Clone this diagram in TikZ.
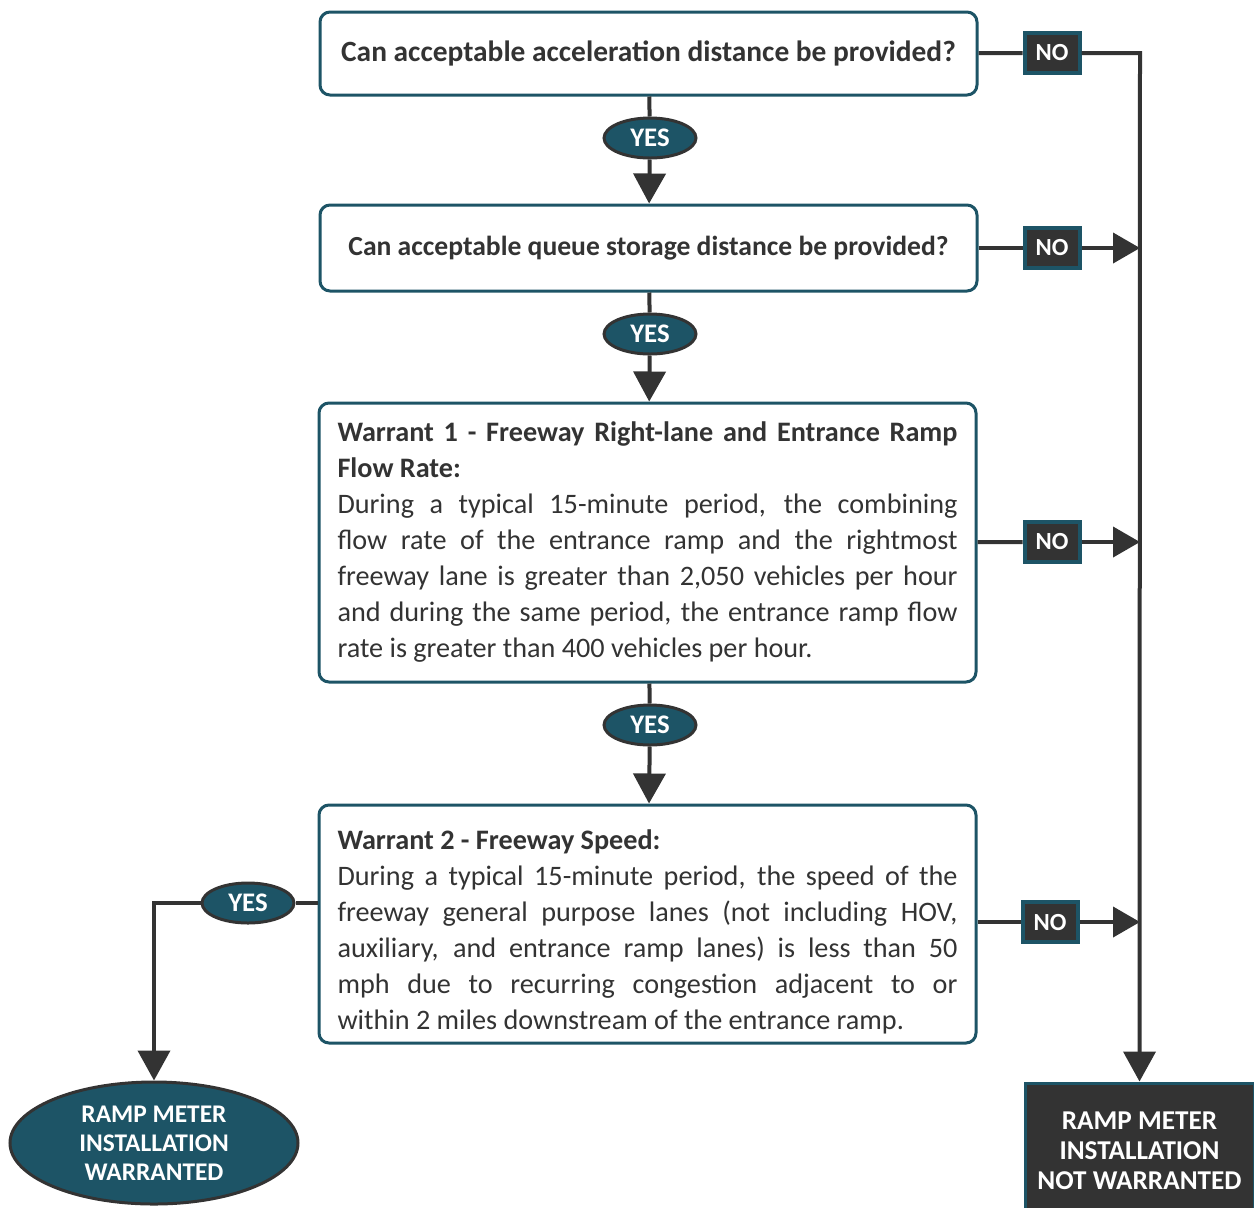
\documentclass[tikz,border=0pt]{standalone}
\usepackage{fontspec}
\setmainfont{Carlito}
\usetikzlibrary{arrows.meta,shapes.geometric}

\definecolor{tealbox}{HTML}{1D5466}
\definecolor{darkgray}{HTML}{333333}

\tikzset{
  question/.style={draw=tealbox, line width=1.5pt, rounded corners=5pt, fill=white,
    text=darkgray, font=\fontsize{14.7}{17}\selectfont\bfseries, minimum width=328.5pt},
  warrant/.style={draw=tealbox, line width=1.5pt, rounded corners=5pt, fill=white,
    text=darkgray, font=\fontsize{14.1}{18}\selectfont, text width=310pt, align=justify,
    minimum width=328.5pt, inner xsep=9.25pt},
  yeslabel/.style={ellipse, draw=darkgray, fill=tealbox, line width=1.5pt, text=white,
    font=\fontsize{13.4}{15}\selectfont\bfseries, minimum width=46pt, minimum height=20pt, inner sep=0pt},
  nolabel/.style={draw=tealbox, fill=darkgray, line width=2pt, text=white,
    font=\fontsize{12.3}{14}\selectfont\bfseries, minimum width=27.5pt, minimum height=20pt, inner sep=0pt},
  flow/.style={draw=darkgray, line width=2pt},
  flowarrow/.style={flow, -{Triangle[length=15pt,width=16pt]}},
  sidearrow/.style={flow, -{Triangle[length=13.5pt,width=15pt]}}
}

\begin{document}
\begin{tikzpicture}[x=0.5pt, y=-0.5pt]
\useasboundingbox (0,0) rectangle (1254,1207);

\node[question, minimum height=41.5pt](accel) at (648.5,53.5) {Can acceptable acceleration distance be provided?};
\node[question, minimum height=43pt, font=\fontsize{13.8}{16}\selectfont\bfseries](queue) at (648.5,248) {Can acceptable queue storage distance be provided?};

\node[warrant, minimum height=139.5pt](warrantA) at (647.5,542.5) {%
\textbf{Warrant 1 - Freeway Right-lane and Entrance Ramp}\linebreak
\textbf{Flow Rate:}\\
During a typical 15-minute period, the combining\linebreak
flow rate of the entrance ramp and the rightmost\linebreak
freeway lane is greater than 2,050 vehicles per hour\linebreak
and during the same period, the entrance ramp flow\linebreak
rate is greater than 400 vehicles per hour.};

\node[warrant, minimum height=119pt](warrantB) at (647.5,924) {%
\rule{0pt}{18pt}\textbf{Warrant 2 - Freeway Speed:}\\
During a typical 15-minute period, the speed of the\linebreak
freeway general purpose lanes (not including HOV,\linebreak
auxiliary, and entrance ramp lanes) is less than 50\linebreak
mph due to recurring congestion adjacent to or\linebreak
within 2 miles downstream of the entrance ramp.};

\node[yeslabel](yesA) at (650,138) {YES};
\node[yeslabel](yesB) at (650,334) {YES};
\node[yeslabel](yesC) at (650,725) {YES};
\node[yeslabel](yesD) at (248,903) {YES};

\node[nolabel](noA) at (1052,53) {NO};
\node[nolabel](noB) at (1052,248) {NO};
\node[nolabel](noC) at (1052,542) {NO};
\node[nolabel](noD) at (1050,922) {NO};

\node[ellipse, draw=darkgray, fill=tealbox, line width=1.5pt, text=white, align=center,
  font=\fontsize{12.7}{14.5}\selectfont\bfseries, minimum width=144pt, minimum height=61pt, inner sep=0pt]
  (warranted) at (154,1143) {RAMP METER\\INSTALLATION\\WARRANTED};
\node[draw=tealbox, fill=darkgray, line width=1.5pt, text=white, align=center,
  font=\fontsize{13.6}{15}\selectfont\bfseries, minimum width=114.5pt, minimum height=68pt, inner sep=0pt]
  (notwarranted) at (1139.5,1151) {RAMP METER\\INSTALLATION\\NOT WARRANTED};

\coordinate (trunk) at (1140,53);

% yes path down the middle
\draw[flow] (accel) -- (yesA);
\draw[flowarrow] (yesA) -- (queue);
\draw[flow] (queue) -- (yesB);
\draw[flowarrow] (yesB) -- (warrantA);
\draw[flow] (warrantA) -- (yesC);
\draw[flowarrow] (yesC) -- (warrantB);
\draw[flow] (yesD -| warrantB.west) -- (yesD);
\draw[flowarrow] (yesD) -| (warranted.north);

% no path on the right
\draw[flow] (accel) -- (noA);
\draw[flowarrow] (noA) -- (trunk) -- (notwarranted.north);
\draw[flow] (queue) -- (noB);
\draw[sidearrow] (noB) -- (noB -| trunk);
\draw[flow] (warrantA) -- (noC);
\draw[sidearrow] (noC) -- (noC -| trunk);
\draw[flow] (warrantB.east |- noD) -- (noD);
\draw[sidearrow] (noD) -- (noD -| trunk);
\end{tikzpicture}
\end{document}
